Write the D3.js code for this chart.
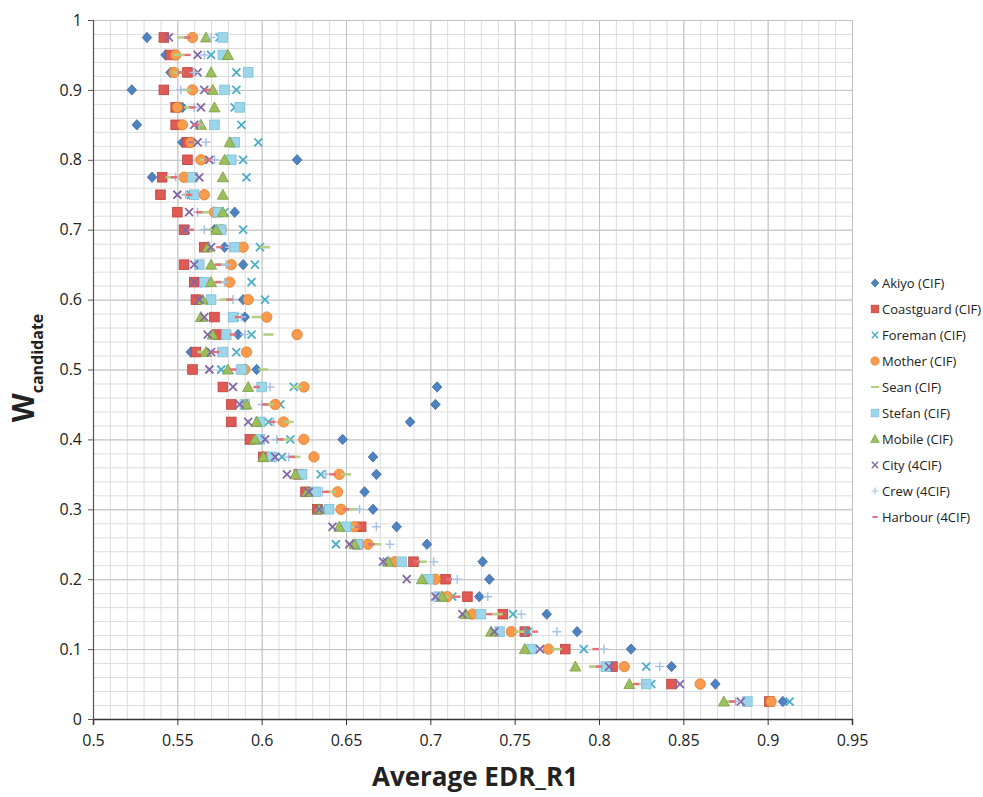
<!DOCTYPE html>
<html>
<head>
<meta charset="utf-8">
<script src="https://cdn.jsdelivr.net/npm/d3@7"></script>
<style>
  body { margin: 0; background: #fff; }
  svg text { font-family: "Open Sans", Arial, sans-serif; fill: #222; }
</style>
</head>
<body>
<svg id="chart" width="983" height="797"></svg>
<script>
// W_candidate levels (y values), bottom to top
var wLevels = [0.025, 0.05, 0.075, 0.1, 0.125, 0.15, 0.175, 0.2, 0.225, 0.25, 0.275, 0.3, 0.325,
  0.35, 0.375, 0.4, 0.425, 0.45, 0.475, 0.5, 0.525, 0.55, 0.575, 0.6, 0.625, 0.65,
  0.675, 0.7, 0.725, 0.75, 0.775, 0.8, 0.825, 0.85, 0.875, 0.9, 0.925, 0.95, 0.975];

// Average EDR_R1 per sequence, same order as wLevels
var akiyo = [0.909, 0.869, 0.843, 0.819, 0.787, 0.769, 0.729, 0.735, 0.731, 0.698, 0.680, 0.666, 0.661,
  0.668, 0.666, 0.648, 0.688, 0.703, 0.704, 0.597, 0.558, 0.586, 0.590, 0.589, 0.564, 0.589,
  0.578, 0.572, 0.584, 0.566, 0.535, 0.621, 0.553, 0.526, 0.553, 0.523, 0.546, 0.543, 0.532];
var coastguard = [0.901, 0.843, 0.808, 0.780, 0.756, 0.743, 0.722, 0.709, 0.690, 0.657, 0.659, 0.633, 0.626,
  0.622, 0.601, 0.593, 0.582, 0.582, 0.577, 0.559, 0.561, 0.574, 0.572, 0.561, 0.560, 0.554,
  0.566, 0.554, 0.550, 0.540, 0.541, 0.556, 0.556, 0.549, 0.549, 0.542, 0.556, 0.546, 0.542];
var foreman = [0.913, 0.831, 0.828, 0.791, 0.758, 0.749, 0.713, 0.700, 0.674, 0.644, 0.648, 0.636, 0.631,
  0.635, 0.612, 0.617, 0.604, 0.611, 0.619, 0.576, 0.585, 0.594, 0.584, 0.602, 0.594, 0.596,
  0.599, 0.589, 0.578, 0.558, 0.591, 0.589, 0.598, 0.588, 0.584, 0.585, 0.585, 0.570, 0.575];
var mother = [0.902, 0.860, 0.815, 0.770, 0.748, 0.725, 0.710, 0.703, 0.679, 0.663, 0.655, 0.647, 0.645,
  0.646, 0.631, 0.625, 0.613, 0.608, 0.625, 0.590, 0.591, 0.621, 0.603, 0.592, 0.581, 0.582,
  0.589, 0.576, 0.572, 0.566, 0.554, 0.564, 0.558, 0.553, 0.550, 0.559, 0.548, 0.549, 0.559];
var sean = [0.878, 0.824, 0.797, 0.775, 0.753, 0.740, 0.708, 0.698, 0.695, 0.668, 0.653, 0.654, 0.641,
  0.650, 0.620, 0.614, 0.616, 0.604, 0.621, 0.601, 0.565, 0.604, 0.597, 0.578, 0.576, 0.576,
  0.602, 0.568, 0.566, 0.556, 0.546, 0.566, 0.560, 0.562, 0.557, 0.555, 0.550, 0.551, 0.553];
var stefan = [0.888, 0.828, 0.804, 0.760, 0.741, 0.730, 0.705, 0.699, 0.683, 0.657, 0.650, 0.640, 0.632,
  0.624, 0.606, 0.599, 0.599, 0.590, 0.600, 0.588, 0.577, 0.579, 0.583, 0.570, 0.566, 0.563,
  0.584, 0.576, 0.574, 0.560, 0.559, 0.582, 0.584, 0.572, 0.587, 0.578, 0.592, 0.577, 0.577];
var mobile = [0.874, 0.818, 0.786, 0.756, 0.736, 0.721, 0.707, 0.695, 0.675, 0.655, 0.646, 0.634, 0.627,
  0.620, 0.601, 0.596, 0.597, 0.591, 0.592, 0.580, 0.567, 0.571, 0.564, 0.565, 0.570, 0.570,
  0.568, 0.573, 0.577, 0.577, 0.577, 0.578, 0.581, 0.564, 0.572, 0.571, 0.570, 0.580, 0.567];
var city = [0.884, 0.848, 0.806, 0.765, 0.738, 0.719, 0.703, 0.686, 0.672, 0.652, 0.642, 0.634, 0.628,
  0.615, 0.608, 0.602, 0.592, 0.587, 0.583, 0.569, 0.570, 0.568, 0.566, 0.563, 0.560, 0.560,
  0.570, 0.555, 0.557, 0.550, 0.563, 0.569, 0.562, 0.560, 0.564, 0.566, 0.562, 0.562, 0.545];
var crew = [0.881, 0.826, 0.836, 0.803, 0.775, 0.754, 0.734, 0.716, 0.702, 0.676, 0.668, 0.658, 0.636,
  0.638, 0.616, 0.609, 0.607, 0.600, 0.605, 0.585, 0.574, 0.590, 0.588, 0.583, 0.578, 0.579,
  0.581, 0.566, 0.562, 0.555, 0.549, 0.572, 0.567, 0.563, 0.560, 0.552, 0.560, 0.566, 0.570];
var harbour = [0.879, 0.822, 0.800, 0.798, 0.762, 0.735, 0.716, 0.711, 0.692, 0.665, 0.657, 0.650, 0.638,
  0.642, 0.618, 0.611, 0.606, 0.602, 0.597, 0.583, 0.573, 0.583, 0.586, 0.581, 0.574, 0.574,
  0.575, 0.558, 0.563, 0.557, 0.548, 0.568, 0.558, 0.561, 0.559, 0.568, 0.552, 0.556, 0.556];

var seriesNames = ["Akiyo (CIF)", "Coastguard (CIF)", "Foreman (CIF)", "Mother (CIF)", "Sean (CIF)",
  "Stefan (CIF)", "Mobile (CIF)", "City (4CIF)", "Crew (4CIF)", "Harbour (4CIF)"];
var seriesValues = [akiyo, coastguard, foreman, mother, sean, stefan, mobile, city, crew, harbour];

var xTicks = [0.5, 0.55, 0.6, 0.65, 0.7, 0.75, 0.8, 0.85, 0.9, 0.95];
var xTickLabels = ["0.5", "0.55", "0.6", "0.65", "0.7", "0.75", "0.8", "0.85", "0.9", "0.95"];
var yTicks = [0, 0.1, 0.2, 0.3, 0.4, 0.5, 0.6, 0.7, 0.8, 0.9, 1];
var yTickLabels = ["0", "0.1", "0.2", "0.3", "0.4", "0.5", "0.6", "0.7", "0.8", "0.9", "1"];

//-------------------------------
// marker styles, one per series
var markers = [
  { shape: "diamond",  fill: "#4f82c0", stroke: "#3b69a6" },
  { shape: "square",   fill: "#e05a55", stroke: "#b9423e" },
  { shape: "x",        fill: "none",    stroke: "#4aaec8" },
  { shape: "circle",   fill: "#f99a4c", stroke: "#e07e2c" },
  { shape: "dash",     fill: "#b3cf85", stroke: "none" },
  { shape: "square",   fill: "#9bd6ea", stroke: "#7dbfd6" },
  { shape: "triangle", fill: "#9cbf5c", stroke: "#7b9c40" },
  { shape: "x",        fill: "none",    stroke: "#8467a6" },
  { shape: "plus",     fill: "none",    stroke: "#a9c3e6" },
  { shape: "smalldash", fill: "#e36f78", stroke: "none" }
];

var svg = d3.select("#chart");
var plotLeft = 93, plotRight = 852, plotTop = 20, plotBottom = 719;

var x = d3.scaleLinear().domain([0.5, 0.95]).range([plotLeft, plotRight]);
var y = d3.scaleLinear().domain([0, 1]).range([plotBottom, plotTop]);

// gridlines: minor first, then major
var minorX = d3.range(0, 46).map(function(i) { return +(0.5 + i * 0.01).toFixed(2); });
var minorY = d3.range(0, 51).map(function(i) { return +(i * 0.02).toFixed(2); });

function gridX(values, color) {
  svg.append("g")
    .attr("transform", "translate(0," + plotBottom + ")")
    .call(d3.axisBottom(x).tickValues(values).tickSize(-(plotBottom - plotTop)).tickFormat(""))
    .call(function(g) { g.select(".domain").remove(); })
    .selectAll("line").attr("stroke", color);
}
function gridY(values, color) {
  svg.append("g")
    .attr("transform", "translate(" + plotLeft + ",0)")
    .call(d3.axisLeft(y).tickValues(values).tickSize(-(plotRight - plotLeft)).tickFormat(""))
    .call(function(g) { g.select(".domain").remove(); })
    .selectAll("line").attr("stroke", color);
}
gridX(minorX, "#dcdcdc");
gridY(minorY, "#dcdcdc");
gridX(xTicks, "#c2c2c2");
gridY(yTicks, "#c2c2c2");

// axes
var xAxis = svg.append("g")
  .attr("transform", "translate(0," + plotBottom + ")")
  .call(d3.axisBottom(x).tickValues(xTicks).tickSize(6).tickPadding(10)
    .tickFormat(function(d, i) { return xTickLabels[i]; }));
xAxis.select(".domain").attr("stroke", "#333").attr("stroke-width", 1.5);
xAxis.selectAll("line").attr("stroke", "#333");
xAxis.selectAll("text").attr("font-size", 16).attr("fill", "#222");

var yAxis = svg.append("g")
  .attr("transform", "translate(" + plotLeft + ",0)")
  .call(d3.axisLeft(y).tickValues(yTicks).tickSize(5).tickPadding(6)
    .tickFormat(function(d, i) { return yTickLabels[i]; }));
yAxis.select(".domain").attr("stroke", "#555").attr("stroke-width", 1.2);
yAxis.selectAll("line").attr("stroke", "#555");
yAxis.selectAll("text").attr("font-size", 16).attr("fill", "#222");

//-------------------------------
// draw one marker into a selection
function drawMarker(g, m) {
  if (m.shape == "diamond") {
    g.append("path").attr("d", "M0,-5.2L4.8,0L0,5.2L-4.8,0Z")
      .attr("fill", m.fill).attr("stroke", m.stroke).attr("stroke-width", 0.8);
  } else if (m.shape == "square") {
    g.append("rect").attr("x", -4.8).attr("y", -4.8).attr("width", 9.6).attr("height", 9.6)
      .attr("fill", m.fill).attr("stroke", m.stroke).attr("stroke-width", 0.8);
  } else if (m.shape == "circle") {
    g.append("circle").attr("r", 5.2)
      .attr("fill", m.fill).attr("stroke", m.stroke).attr("stroke-width", 0.8);
  } else if (m.shape == "triangle") {
    g.append("path").attr("d", "M0,-5.5L5.5,4.5L-5.5,4.5Z")
      .attr("fill", m.fill).attr("stroke", m.stroke).attr("stroke-width", 0.8);
  } else if (m.shape == "x") {
    g.append("path").attr("d", "M-4,-4L4,4M-4,4L4,-4")
      .attr("stroke", m.stroke).attr("stroke-width", 1.8).attr("fill", "none");
  } else if (m.shape == "plus") {
    g.append("path").attr("d", "M-4.5,0L4.5,0M0,-4.5L0,4.5")
      .attr("stroke", m.stroke).attr("stroke-width", 1.5).attr("fill", "none");
  } else if (m.shape == "dash") {
    g.append("rect").attr("x", -5).attr("y", -1.3).attr("width", 10).attr("height", 2.6)
      .attr("fill", m.fill);
  } else if (m.shape == "smalldash") {
    g.append("rect").attr("x", -3.2).attr("y", -1.2).attr("width", 6.4).attr("height", 2.4)
      .attr("fill", m.fill);
  }
}

// series points, drawn in order so later series sit on top
seriesValues.forEach(function(values, s) {
  var pts = values.map(function(v, i) { return { x: v, w: wLevels[i] }; });
  svg.append("g").attr("class", "series s" + s)
    .selectAll("g")
    .data(pts)
    .enter().append("g")
      .attr("transform", function(d) { return "translate(" + x(d.x) + "," + y(d.w) + ")"; })
      .each(function() { drawMarker(d3.select(this), markers[s]); });
});

// legend
var legend = svg.append("g").attr("transform", "translate(875,283)");
seriesNames.forEach(function(name, i) {
  var row = legend.append("g").attr("transform", "translate(0," + (i * 26) + ")");
  var mk = row.append("g").attr("transform", "scale(0.8)");
  drawMarker(mk, markers[i]);
  row.append("text").attr("x", 7).attr("y", 5)
    .attr("font-size", 13).attr("fill", "#222").text(name);
});

// axis titles
svg.append("text")
  .attr("x", 475).attr("y", 786)
  .attr("text-anchor", "middle")
  .attr("font-weight", "bold").attr("font-size", 26).attr("fill", "#111")
  .text("Average EDR_R1");

var yTitle = svg.append("text")
  .attr("transform", "translate(34,368) rotate(-90)")
  .attr("text-anchor", "middle")
  .attr("font-weight", "bold").attr("fill", "#111");
yTitle.append("tspan").attr("font-size", 30).text("W");
yTitle.append("tspan").attr("font-size", 16).attr("dy", 9).text("candidate");
</script>
</body>
</html>
